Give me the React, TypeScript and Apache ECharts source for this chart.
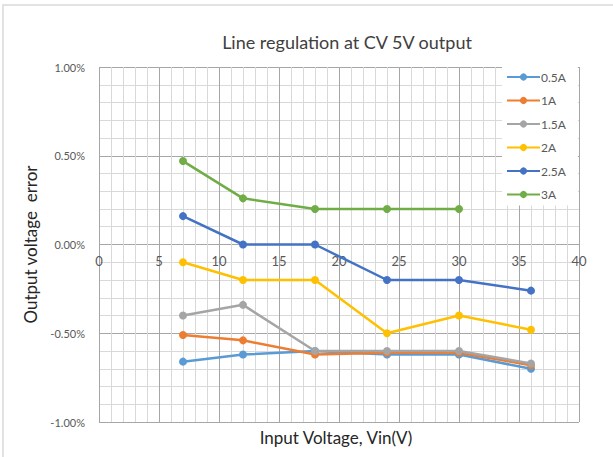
import React, { useEffect, useRef } from "react";
import * as echarts from "echarts";

const vin = [7, 12, 18, 24, 30, 36];
const s05A = [-0.66, -0.62, -0.6, -0.62, -0.62, -0.7];
const s1A = [-0.51, -0.54, -0.62, -0.61, -0.61, -0.68];
const s15A = [-0.4, -0.34, -0.6, -0.6, -0.6, -0.67];
const s2A = [-0.1, -0.2, -0.2, -0.5, -0.4, -0.48];
const s25A = [0.16, 0.0, 0.0, -0.2, -0.2, -0.26];
const s3A = [0.47, 0.26, 0.2, 0.2, 0.2];
const seriesNames = ["0.5A", "1A", "1.5A", "2A", "2.5A", "3A"];
const seriesValues = [s05A, s1A, s15A, s2A, s25A, s3A];
const colors = ["#5B9BD5", "#ED7D31", "#A5A5A5", "#FFC000", "#4472C4", "#70AD47"];
const xTicks = [0, 5, 10, 15, 20, 25, 30, 35, 40];
const yTicks = [-1, -0.5, 0, 0.5, 1];

const FONT = "Lato, 'Open Sans', sans-serif";
const GRID_TOP = 67;
const GRID_BOTTOM = 35;
const CHART_H = 457;

export default function App() {
  const ref = useRef<HTMLDivElement>(null);
  useEffect(() => {
    if (!ref.current) return;
    const chart = echarts.init(ref.current, undefined, { renderer: "svg" });
    const plotH = CHART_H - GRID_TOP - GRID_BOTTOM;
    const zeroFromBottom = plotH / 2; // y range is symmetric about 0
    chart.setOption({
      animation: false,
      backgroundColor: "#fff",
      textStyle: { fontFamily: FONT },
      grid: { left: 99, right: 34, top: GRID_TOP, bottom: GRID_BOTTOM, containLabel: false },
      graphic: [
        {
          type: "rect",
          shape: { x: 3, y: 5, width: 640, height: 480 },
          style: { fill: "none", stroke: "#d9d9d9", lineWidth: 1.5 },
          z: 0,
        },
        {
          type: "text",
          x: 347,
          y: 42,
          style: {
            text: "Line regulation at CV 5V output",
            fontFamily: FONT,
            fontSize: 18,
            fill: "#404040",
            align: "center",
            verticalAlign: "middle",
          },
        },
        {
          type: "text",
          x: 336,
          y: 437,
          style: {
            text: "Input Voltage, Vin(V)",
            fontFamily: FONT,
            fontSize: 17,
            fill: "#262626",
            align: "center",
            verticalAlign: "middle",
          },
        },
      ],
      legend: {
        orient: "vertical",
        left: 502,
        top: 66,
        padding: [4, 12, 4, 4],
        backgroundColor: "#fff",
        itemWidth: 33,
        itemHeight: 9,
        itemGap: 9.5,
        data: seriesNames,
        textStyle: { fontFamily: FONT, fontSize: 12, color: "#595959", lineHeight: 14, padding: [0, 0, 0, -4] },
      },
      xAxis: {
        type: "value",
        min: xTicks[0],
        max: xTicks[xTicks.length - 1],
        interval: 5,
        axisLine: { show: false, onZero: false },
        axisTick: { show: false },
        axisLabel: {
          color: "#595959",
          fontSize: 13,
          margin: -(zeroFromBottom - 10),
          fontFamily: FONT,
        },
        splitLine: { show: true, lineStyle: { color: "#a6a6a6", width: 1 } },
        minorTick: { show: false, splitNumber: 5 },
        minorSplitLine: { show: true, lineStyle: { color: "#d9d9d9", width: 1 } },
      },
      yAxis: {
        type: "value",
        min: yTicks[0],
        max: yTicks[yTicks.length - 1],
        interval: 0.5,
        name: "Output voltage  error",
        nameLocation: "middle",
        nameGap: 60,
        nameTextStyle: { fontSize: 17, color: "#262626", fontFamily: FONT },
        axisLine: { show: false, onZero: false },
        axisTick: { show: false },
        axisLabel: {
          color: "#595959",
          fontSize: 11,
          margin: 14,
          fontFamily: FONT,
          formatter: (v: number) => `${v.toFixed(2)}%`,
        },
        splitLine: { show: true, lineStyle: { color: "#a6a6a6", width: 1 } },
        minorTick: { show: false, splitNumber: 5 },
        minorSplitLine: { show: true, lineStyle: { color: "#d9d9d9", width: 1 } },
      },
      series: seriesNames.map((name, i) => ({
        name,
        type: "line",
        data: seriesValues[i].map((v, j) => [vin[j], v]),
        symbol: "circle",
        symbolSize: 8,
        color: colors[i],
        lineStyle: { width: 2.5, color: colors[i] },
        itemStyle: { color: colors[i] },
      })),
    });
    return () => chart.dispose();
  }, []);
  return (
    <div
      ref={ref}
      style={{ position: "fixed", left: 0, top: 0, width: 613, height: 457 }}
    />
  );
}
